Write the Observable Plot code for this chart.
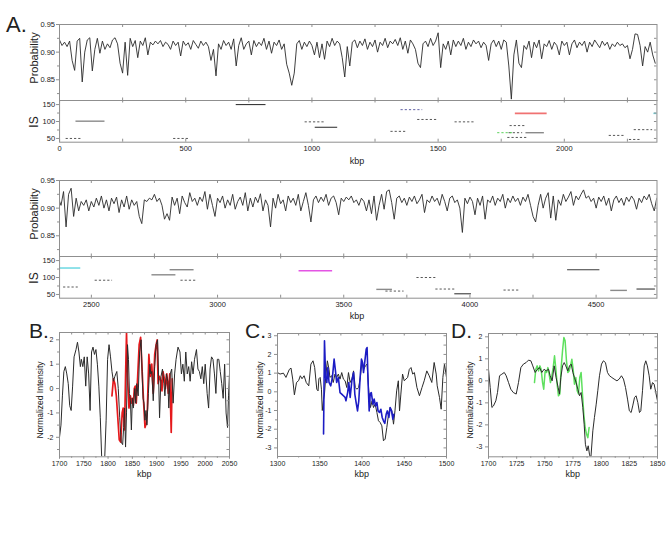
<!DOCTYPE html>
<html><head><meta charset="utf-8">
<script src="https://cdn.jsdelivr.net/npm/d3@7"></script>
<script src="https://cdn.jsdelivr.net/npm/@observablehq/plot@0.6"></script>
<style>
body{margin:0;background:#fff;}
#fig{position:relative;width:670px;height:553px;font-family:"Liberation Sans",Arial,Helvetica,sans-serif;color:#222;overflow:hidden;}
#fig svg{position:absolute;overflow:visible;}
#fig .lab{position:absolute;white-space:nowrap;line-height:1;}
</style></head><body><div id="fig"></div>
<script>
// ---------------- DATA ----------------
// Row 1 probability, sampled every 10 kbp starting at 0 kbp
const probTopStart = 0, probStep = 10;
const probTop = [
.922,.912,.918,.910,.920,.885,.867,.920,.925,.846,
.900,.922,.926,.866,.905,.925,.898,.920,.905,.915,
.908,.922,.926,.915,.880,.862,.918,.858,.925,.910,
.921,.890,.920,.912,.926,.895,.918,.913,.920,.915,
.921,.910,.918,.914,.905,.920,.912,.918,.893,.920,
.912,.917,.905,.921,.914,.907,.920,.912,.918,.910,
.885,.905,.857,.915,.905,.921,.912,.918,.905,.924,
.875,.912,.926,.905,.915,.920,.895,.921,.910,.918,
.912,.925,.905,.920,.898,.918,.912,.922,.905,.915,
.878,.862,.840,.862,.915,.921,.905,.918,.910,.920,
.912,.895,.918,.890,.915,.887,.920,.910,.925,.912,
.920,.915,.890,.855,.910,.875,.918,.922,.908,.920,
.912,.924,.905,.918,.910,.922,.900,.918,.912,.925,
.908,.920,.915,.923,.912,.926,.905,.920,.898,.922,
.915,.905,.880,.872,.915,.920,.910,.925,.912,.920,
.935,.872,.915,.905,.920,.895,.922,.910,.920,.912,
.925,.905,.918,.910,.922,.915,.920,.908,.918,.912,
.885,.915,.922,.910,.920,.905,.922,.918,.875,.815,
.895,.922,.880,.872,.912,.905,.920,.890,.918,.908,
.922,.888,.915,.910,.921,.905,.918,.912,.895,.920,
.912,.918,.895,.915,.922,.908,.918,.912,.920,.900,
.918,.910,.922,.915,.908,.920,.912,.918,.905,.915,
.910,.918,.912,.915,.908,.912,.888,.905,.933,.932,
.912,.875,.910,.900,.918,.895,.880
];
// Row 2 probability, sampled every 10 kbp starting at 2370 kbp
const probBottomStart = 2370;
const probBottom = [
.918,.905,.930,.866,.925,.936,.885,.918,.895,.912,
.905,.915,.895,.912,.902,.918,.905,.922,.900,.915,
.895,.918,.908,.920,.892,.915,.902,.922,.898,.915,
.905,.912,.885,.872,.915,.912,.918,.915,.925,.912,
.918,.905,.880,.890,.878,.920,.905,.918,.890,.922,
.910,.902,.928,.912,.918,.905,.920,.912,.930,.898,
.925,.905,.885,.918,.910,.922,.900,.915,.905,.925,
.898,.912,.920,.905,.928,.895,.918,.902,.920,.910,
.926,.895,.915,.905,.866,.918,.900,.925,.908,.915,
.895,.922,.910,.918,.905,.925,.895,.912,.928,.905,
.875,.915,.922,.910,.920,.912,.925,.905,.918,.922,
.910,.888,.918,.912,.920,.915,.922,.910,.915,.905,
.918,.912,.895,.915,.890,.922,.878,.905,.925,.898,
.930,.933,.910,.880,.918,.922,.910,.918,.905,.920,
.912,.922,.908,.915,.925,.892,.915,.910,.922,.912,
.918,.905,.925,.912,.895,.918,.922,.910,.915,.900,
.856,.918,.908,.920,.912,.888,.918,.905,.922,.880,
.915,.910,.922,.905,.918,.912,.925,.900,.918,.910,
.922,.912,.918,.905,.920,.912,.925,.905,.885,.875,
.905,.925,.900,.918,.928,.882,.922,.878,.915,.905,
.925,.912,.920,.930,.905,.922,.915,.925,.933,.918,
.922,.912,.918,.900,.920,.912,.922,.905,.918,.895,
.915,.922,.910,.918,.905,.920,.912,.922,.915,.898,
.918,.910,.922,.915,.925,.908,.895,.918
];
// IS segments: [start kbp, end kbp, IS value, kind]
const isTop = [
[26,85,50,"dash"],[65,180,101,"grey"],[452,514,50,"dash"],[700,818,150,"black"],
[973,1049,99,"dash"],[1013,1102,83,"black"],[1313,1373,71,"dash"],[1353,1439,135,"blue"],
[1419,1496,106,"dash"],[1567,1643,99,"dash"],[1736,1800,67,"green"],[1781,1835,67,"dash"],
[1776,1852,53,"dash"],[1785,1845,88,"dash"],[1806,1932,124,"red"],[1848,1921,67,"grey"],
[2178,2238,59,"dash"],[2277,2350,76,"dash"],[2258,2304,47,"dash"],[2355,2367,124,"cyan"]
];
const isBottom = [
[2374,2458,128,"cyan"],[2390,2448,72,"dash"],[2515,2584,92,"dash"],[2740,2835,108,"grey"],
[2812,2907,123,"grey"],[2855,2914,92,"dash"],[3323,3456,120,"magenta"],[3631,3693,65,"grey"],
[3667,3739,60,"dash"],[3790,3865,100,"dash"],[3865,3940,66,"dash"],[3940,4006,52,"black"],
[4135,4195,63,"dash"],[4387,4515,123,"black"],[4558,4624,62,"grey"],[4662,4735,66,"black"]
];
// Panel B
const bBlack = [[1700,-2.0],[1703,-1.5],[1706,-0.3],[1709,0.7],[1712,0.9],[1715,0.6],[1718,0.2],[1721,-0.7],[1724,-0.9],[1727,0.1],[1730,1.3],[1734,1.6],[1737,1.9],[1740,1.5],[1743,0.9],[1745,1.2],[1748,0.9],[1751,1.3],[1754,0.1],[1757,1.3],[1760,0.6],[1763,-0.9],[1766,1.5],[1769,1.7],[1772,1.4],[1775,1.6],[1778,1.0],[1781,0.1],[1784,-1.2],[1787,-2.9],[1790,-3.2],[1793,-2.9],[1796,-1.3],[1799,1.2],[1802,1.8],[1805,1.3],[1808,0.7],[1811,0.3],[1814,0.5],[1818,0.7],[1821,0.0],[1824,-1.2],[1827,-2.2],[1830,-2.3],[1832,-1.6],[1834,-0.8],[1836,-2.4],[1838,-1.0],[1840,1.8],[1842,1.2],[1844,-0.2],[1846,-0.5],[1848,-1.7],[1850,-0.4],[1852,-0.8],[1855,0.0],[1857,-0.6],[1859,0.2],[1862,-0.3],[1865,1.5],[1868,2.0],[1870,0.7],[1872,-0.4],[1874,-0.6],[1876,-1.3],[1878,-0.9],[1880,-1.5],[1883,-0.2],[1886,1.0],[1888,0.6],[1890,0.7],[1893,-0.5],[1896,0.9],[1899,1.8],[1902,2.0],[1904,0.5],[1906,-1.2],[1909,0.5],[1912,0.8],[1915,0.2],[1917,-0.3],[1920,0.6],[1923,0.3],[1925,-0.8],[1928,0.6],[1931,0.8],[1934,-0.6],[1937,0.6],[1940,1.2],[1944,1.7],[1948,1.5],[1951,0.6],[1954,1.0],[1957,0.3],[1960,1.5],[1963,0.6],[1966,0.9],[1969,0.3],[1972,1.1],[1975,0.6],[1978,1.2],[1982,1.6],[1985,0.8],[1988,0.7],[1991,0.4],[1994,0.9],[1997,0.2],[2000,1.0],[2004,-0.2],[2007,-0.8],[2010,0.8],[2013,1.3],[2016,1.2],[2019,0.6],[2022,-0.2],[2025,1.2],[2028,1.2],[2031,0.7],[2034,0.2],[2037,-0.4],[2040,1.0],[2043,-1.0],[2046,-1.6],[2048,-0.3],[2050,0.6]];
const bRed = [[1808,-0.3],[1811,0.4],[1814,0.2],[1817,-0.3],[1820,-1.2],[1823,-2.1],[1826,-2.2],[1829,-1.0],[1831,-0.8],[1834,-1.7],[1836,0.5],[1838,2.3],[1840,0.5],[1843,-0.8],[1846,-0.3],[1848,-0.6],[1850,-0.4],[1852,-0.7],[1854,0.0],[1856,0.1],[1858,-0.6],[1861,0.5],[1864,1.8],[1867,2.1],[1870,0.8],[1873,-0.5],[1876,-1.6],[1879,-1.4],[1881,-0.8],[1884,1.4],[1887,0.5],[1890,1.0],[1893,-0.2],[1896,1.4],[1899,1.8],[1901,2.0],[1903,0.2],[1906,0.5],[1909,0.3],[1911,-0.1],[1913,0.7],[1916,0.4],[1918,0.0],[1921,0.6],[1924,-0.2],[1927,0.6],[1930,-1.8],[1932,0.4]];
// Panel C
const cBlack = [[1300,1.03],[1303,0.95],[1307,1.0],[1310,0.77],[1314,1.2],[1316,1.27],[1318,0.68],[1320,-0.16],[1322.5,0.5],[1325,0.6],[1327,0.86],[1329,0.7],[1331.5,0.86],[1334,0.5],[1337,0.32],[1339.5,1.48],[1342,1.66],[1344,1.3],[1346.5,0.14],[1348,0.05],[1349,0.7],[1350.5,0.77],[1352,0.14],[1353,-1.0],[1354.5,-0.4],[1355.6,-0.12],[1357,0.77],[1359,1.66],[1361,1.2],[1362,0.77],[1364,0.86],[1366,0.5],[1368,0.95],[1370,0.77],[1372,0.95],[1374,0.68],[1376,1.03],[1378,0.68],[1380,0.59],[1382,0.23],[1384,1.03],[1386,0.5],[1388,0.68],[1390,1.12],[1392,0.23],[1394,0.14],[1396,0.23],[1398,0.77],[1400,1.66],[1402,1.2],[1404,1.39],[1406,1.48],[1408,0.05],[1410,-0.84],[1412,-0.48],[1413.6,-0.84],[1415.6,-0.66],[1417.6,-1.1],[1419.5,-1.55],[1421.5,-1.64],[1423.5,-1.82],[1425.4,-2.62],[1427.4,-2.53],[1429.4,-1.9],[1431.4,-1.2],[1433.3,-0.84],[1435.3,-1.02],[1437.3,-1.73],[1439,-1.02],[1441,0.05],[1443,0.59],[1444.4,-1.02],[1446,-0.12],[1448,0.95],[1450,0.59],[1452,0.68],[1454,0.77],[1456,1.2],[1458,1.3],[1460,0.95],[1462,1.03],[1465,0.23],[1468,-0.21],[1471,0.23],[1473.6,0.59],[1476.7,1.12],[1479.5,0.86],[1482.6,0.5],[1485.4,1.57],[1487.8,0.95],[1489,0.32],[1491.7,-0.3],[1493.7,-0.93],[1495.7,0.77],[1497.6,1.48],[1500,0.77]];
const cBlue = [[1354.5,-2.26],[1355.6,2.73],[1357,0.77],[1358.4,0.5],[1359.6,1.3],[1361,0.5],[1363,0.32],[1365,0.77],[1367,1.75],[1368.6,1.12],[1370,0.5],[1372,0.77],[1374,-0.04],[1376,-0.12],[1378,-0.21],[1380,-0.3],[1381,-0.48],[1383,-0.04],[1384.4,0.5],[1386,-0.3],[1388,0.59],[1390,1.03],[1391.5,-0.12],[1393,-0.57],[1394.7,-1.02],[1396.2,-0.48],[1397.8,0.77],[1399.4,1.75],[1400.6,1.57],[1401.8,1.03],[1403.4,1.66],[1405,2.28],[1406,2.37],[1407.3,0.41],[1408.5,-1.02],[1409.7,-0.12],[1411,-0.04],[1413,-0.66],[1414.4,-0.39],[1416,-0.75],[1417.6,-0.57],[1419,-1.02],[1420.7,-1.1],[1422.3,-0.93],[1423.9,-1.37],[1425.4,-1.55],[1427,-1.69],[1428.6,-1.2],[1430,-1.02],[1431.8,-1.37],[1433.3,-0.84],[1435,-1.02],[1436.5,-1.46],[1437.7,-1.2]];
// Panel D
const dBlack = [[1700,0.53],[1701.5,-0.3],[1703,-1.21],[1704.4,-1.14],[1706.5,-0.91],[1708,-0.53],[1709.8,0.23],[1711.8,0.3],[1714,0.38],[1715.7,0.23],[1717.8,-0.08],[1719.8,-0.38],[1722,-0.53],[1724.6,-0.6],[1726.6,-0.08],[1728.7,0.6],[1731,0.76],[1733.4,0.83],[1735.5,0.94],[1737.6,0.91],[1739.3,0.68],[1741.4,0.38],[1743.5,0.53],[1745.3,0.6],[1747.3,0.38],[1749.4,0.53],[1751.2,0.45],[1753.3,0.53],[1754.7,0.23],[1756.5,0],[1758.3,0.68],[1760,0.15],[1761.8,-0.3],[1763,-0.6],[1764.2,0.15],[1765.7,0.68],[1767.2,0.83],[1768.6,0.68],[1770.4,0.45],[1771.9,0.68],[1773.4,0.76],[1774.9,0.38],[1776.3,0.15],[1777.8,-0.08],[1779.3,-0.38],[1780.8,-0.68],[1782.2,-0.53],[1783.7,-1.21],[1784.9,-1.97],[1786,-2.88],[1787.3,-3.18],[1788.5,-2.95],[1789.6,-3.33],[1790.8,-3.55],[1792.6,-2.27],[1794,-1.67],[1795.6,-1.06],[1797,-0.45],[1798.5,0.23],[1800.3,0.76],[1802,0.91],[1803.8,0.83],[1805.6,0.38],[1807.4,0.23],[1809.5,0.15],[1811.5,0.08],[1814,0],[1816,0.08],[1818,0.23],[1819.8,0.08],[1821.6,-0.3],[1823.4,-0.83],[1825,-1.36],[1826.6,-1.44],[1828,-1.14],[1829.6,-0.76],[1831,-0.68],[1832.5,-0.98],[1834,-1.44],[1835.2,-1.36],[1836.7,-0.45],[1838.2,0.68],[1839.6,0.91],[1841,0.68],[1842.6,0.23],[1844,-0.38],[1845.6,-0.08],[1847,-0.15],[1848.5,-0.53],[1850,-0.91]];
const dGreen = [[1740.8,-0.08],[1742,0.53],[1743.2,0.68],[1744.4,0.45],[1745.6,0.68],[1746.7,0.53],[1748,-0.08],[1749,-0.38],[1750.3,0.45],[1751.5,0.38],[1752.7,0.6],[1753.8,0.3],[1755,-0.08],[1756.2,0.23],[1757.4,0.6],[1758.6,1.14],[1759.8,0.53],[1760.9,-0.15],[1762.1,-0.68],[1763.3,-0.6],[1764.5,0.6],[1765.7,1.36],[1766.9,1.97],[1768,1.82],[1769.2,0.91],[1770.4,0.38],[1771.6,0.45],[1772.8,0.68],[1774,0.98],[1775.1,0.53],[1776.3,-0.15],[1777.5,0.15],[1778.7,-0.45],[1779.9,-0.6],[1781,0.15],[1782.2,0.38],[1783.4,-0.6],[1784.6,-1.52],[1785.8,-2.12],[1787,-2.42],[1788.2,-2.58],[1789.3,-2.12]];
// Tick values
const probTicks = [0.85, 0.90, 0.95], probMinor = [0.825, 0.875, 0.925];
const isTicks = [50, 100, 150], isMinor = [75, 125];
const kbpTopLabels = [0, 500, 1000, 1500, 2000];
const kbpBottomLabels = [2500, 3000, 3500, 4000, 4500];

// ---------------- DRAWING ----------------
const FRAME = "#8f8f8f", TICK = "#8f8f8f", INK = "#2a2a2a";
const FONT = '"Liberation Sans", Arial, Helvetica, sans-serif';
const fig = document.getElementById("fig");

function place(svg, left, top) {
  svg.style.left = left + "px"; svg.style.top = top + "px";
  fig.appendChild(svg);
}
function label(text, cx, cy, size, rotate) {
  const d = document.createElement("div");
  d.className = "lab"; d.textContent = text;
  d.style.left = cx + "px"; d.style.top = cy + "px"; d.style.fontSize = size + "px";
  d.style.transform = "translate(-50%,-50%)" + (rotate ? " rotate(-90deg)" : "");
  fig.appendChild(d);
}
function letter(text, left, top, size) {
  const d = document.createElement("div");
  d.className = "lab"; d.textContent = text;
  d.style.left = left + "px"; d.style.top = top + "px"; d.style.fontSize = size + "px";
  fig.appendChild(d);
}
function mk(opts) {
  const {fx, fy, fw, fh, ml, mr, mt, mb, fontSize} = opts;
  const svg = Plot.plot({
    width: fw + ml + mr, height: fh + mt + mb,
    marginLeft: ml, marginRight: mr, marginTop: mt, marginBottom: mb,
    x: Object.assign({domain: opts.xDomain}, opts.xAxisNull ? {axis: null} : {}),
    y: {domain: opts.yDomain},
    style: {fontFamily: FONT, fontSize: fontSize + "px", color: "#222", background: "transparent", overflow: "visible"},
    marks: opts.marks
  });
  place(svg, fx - ml, fy - mt);
}
const range = (a, b, s) => d3.range(a, b + 1e-9, s);
const fmt2 = d3.format(".2f");
const fmtInt = d => String(d);

const segStyle = {
  dash: {stroke: "#444", strokeWidth: 0.9, strokeDasharray: "2.2,2"},
  grey: {stroke: "#8a8a8a", strokeWidth: 1.4},
  black: {stroke: "#3a3a3a", strokeWidth: 1.1},
  blue: {stroke: "#50509a", strokeWidth: 0.9, strokeDasharray: "2.2,2"},
  green: {stroke: "#46cc46", strokeWidth: 0.9, strokeDasharray: "2.2,2"},
  red: {stroke: "#f07272", strokeWidth: 1.6},
  cyan: {stroke: "#6cd8e2", strokeWidth: 1.5},
  magenta: {stroke: "#e455e4", strokeWidth: 1.5}
};

function row(dy, probData, probStart, isData, xDomain, labels) {
  const fx = 58.5, fw = 597.5;
  const ticks250 = range(Math.ceil(xDomain[0] / 250) * 250, xDomain[1], 250);
  // Probability panel
  const ph = 76;
  mk({fx, fy: 24 + dy, fw, fh: ph, ml: 30, mr: 6, mt: 6, mb: 0, fontSize: 7.5,
    xDomain, yDomain: [0.8125, 0.95], xAxisNull: true,
    marks: [
      Plot.lineY(probData, {x: (d, i) => probStart + i * probStep, y: d => d, stroke: INK, strokeWidth: 0.9, clip: true}),
      Plot.frame({stroke: FRAME}),
      Plot.axisY(probTicks, {tickSize: 3, tickPadding: 1.5, tickFormat: fmt2, label: null, stroke: TICK}),
      Plot.axisY(probMinor, {tickSize: 2, tickFormat: () => "", label: null, stroke: TICK}),
      Plot.tickY(probTicks.concat(probMinor), {y: d => d, insetLeft: fw - 2.5, stroke: TICK}),
      Plot.tickX(ticks250, {x: d => d, insetBottom: ph - 3, stroke: TICK}),
      Plot.tickX(ticks250, {x: d => d, insetTop: ph - 2.5, stroke: TICK})
    ]});
  // IS panel
  const ih = 41.7;
  const segMarks = Object.keys(segStyle).map(k =>
    Plot.ruleY(isData.filter(d => d[3] === k), {y: d => d[2], x1: d => d[0], x2: d => d[1], ...segStyle[k]}));
  mk({fx, fy: 100 + dy, fw, fh: ih, ml: 30, mr: 6, mt: 0, mb: 14, fontSize: 7.5,
    xDomain, yDomain: [39, 162],
    marks: [
      ...segMarks,
      Plot.frame({stroke: FRAME}),
      Plot.axisY(isTicks, {tickSize: 3, tickPadding: 1.5, tickFormat: fmtInt, label: null, stroke: TICK}),
      Plot.axisY(isMinor, {tickSize: 2, tickFormat: () => "", label: null, stroke: TICK}),
      Plot.tickY(isTicks.concat(isMinor), {y: d => d, insetLeft: fw - 2.5, stroke: TICK}),
      Plot.tickX(ticks250, {x: d => d, insetBottom: ih - 2.5, stroke: TICK}),
      Plot.tickX(ticks250, {x: d => d, insetTop: ih - 3, stroke: TICK}),
      Plot.axisX(labels, {tickSize: 0, tickPadding: 3.5, tickFormat: fmtInt, label: null})
    ]});
  label("Probability", 34, 58 + dy, 11, true);
  label("IS", 33.5, 122 + dy, 12, true);
  label("kbp", 357, 160.5 + dy, 9, false);
}

row(0, probTop, probTopStart, isTop, [0, 2367], kbpTopLabels);
row(155.5, probBottom, probBottomStart, isBottom, [2374, 4741], kbpBottomLabels);

function intensity(o) {
  const {fx, fy, fw, fh} = o;
  const allY = o.yMajor.concat(o.yMinor);
  const allX = o.xMajor.concat(o.xMinor);
  mk({fx, fy, fw, fh, ml: 30, mr: 6, mt: 6, mb: 14, fontSize: 7,
    xDomain: o.xDomain, yDomain: o.yDomain,
    marks: [
      ...o.lines,
      Plot.frame({stroke: FRAME}),
      Plot.axisY(o.yMajor, {tickSize: 3, tickPadding: 3, tickFormat: fmtInt, label: null, stroke: TICK}),
      Plot.axisY(o.yMinor, {tickSize: 2, tickFormat: () => "", label: null, stroke: TICK}),
      Plot.tickY(allY, {y: d => d, insetLeft: fw - 2.5, stroke: TICK}),
      Plot.axisX(o.xMajor, {tickSize: 2.5, tickPadding: 2, tickFormat: fmtInt, label: null, stroke: TICK}),
      Plot.axisX(o.xMinor, {tickSize: 1.5, tickFormat: () => "", label: null, stroke: TICK}),
      Plot.tickX(allX, {x: d => d, insetBottom: fh - 2.5, stroke: TICK})
    ]});
  label("Normalized Intensity", o.ylx, fy + fh / 2 + 6, 8.5, true);
  label("kbp", fx + fw / 2, fy + fh + 18, 9, false);
}
const line = (data, stroke, w) => Plot.line(data, {x: d => d[0], y: d => d[1], stroke, strokeWidth: w, clip: true});

intensity({fx: 59.3, fy: 331.7, fw: 170, fh: 124.3, xDomain: [1700, 2050], yDomain: [-2.8, 2.3],
  xMajor: range(1700, 2050, 50), xMinor: range(1725, 2025, 50),
  yMajor: [-2, -1, 0, 1, 2], yMinor: [-2.5, -1.5, -0.5, 0.5, 1.5], ylx: 40,
  lines: [line(bRed, "#e5191c", 1.7), line(bBlack, "#2a2a2a", 1)]});
intensity({fx: 277.3, fy: 332.7, fw: 169, fh: 123, xDomain: [1300, 1500], yDomain: [-3.46, 3.12],
  xMajor: range(1300, 1500, 50), xMinor: range(1325, 1475, 50),
  yMajor: [-3, -2, -1, 0, 1, 2, 3], yMinor: [-2.5, -1.5, -0.5, 0.5, 1.5, 2.5], ylx: 259.5,
  lines: [line(cBlack, "#2a2a2a", 1), line(cBlue, "#1c1cc4", 1.6)]});
intensity({fx: 488.3, fy: 332.7, fw: 169, fh: 123.3, xDomain: [1700, 1850], yDomain: [-3.45, 2.15],
  xMajor: range(1700, 1850, 25), xMinor: range(1712.5, 1837.5, 25),
  yMajor: [-3, -2, -1, 0, 1, 2], yMinor: [-2.5, -1.5, -0.5, 0.5, 1.5], ylx: 470,
  lines: [line(dGreen, "#5ee05e", 1.5), line(dBlack, "#2a2a2a", 1)]});

letter("A.", 6, 14, 22);
letter("B.", 29, 320, 21);
letter("C.", 245, 320, 21);
letter("D.", 451, 320, 21);
</script></body></html>
